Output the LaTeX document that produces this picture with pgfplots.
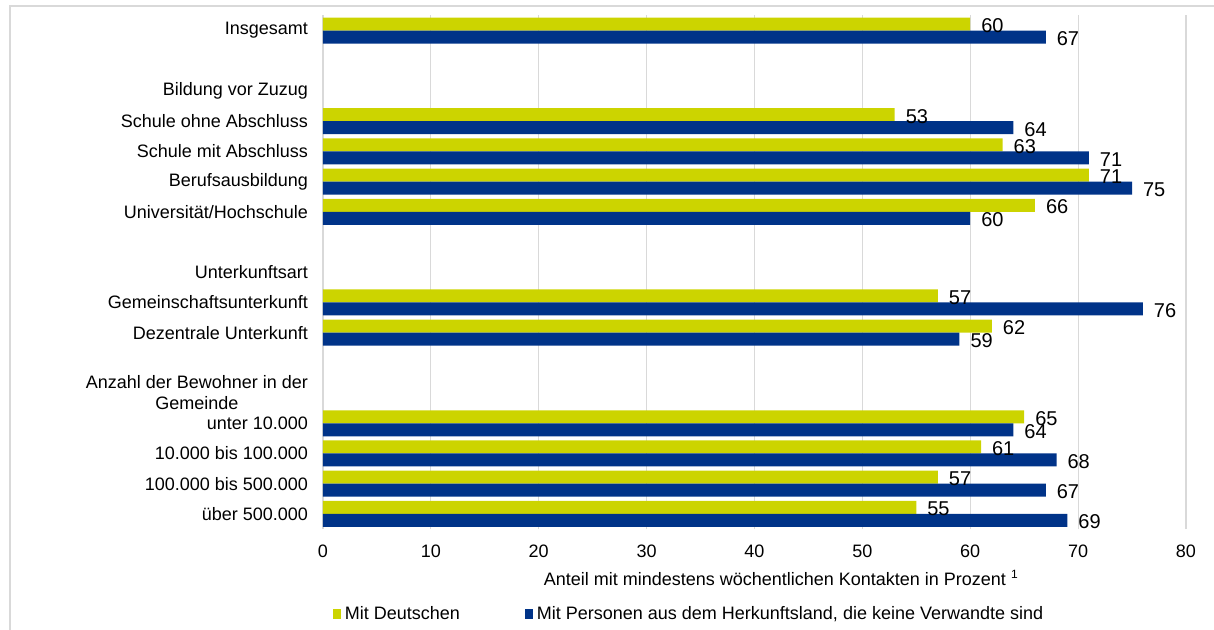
\documentclass[border=0pt]{standalone}
\usepackage{fontspec}
\setmainfont{Liberation Sans}
\usepackage{pgfplots}
\pgfplotsset{compat=1.18}
\definecolor{cDE}{RGB}{204,212,0}
\definecolor{cHK}{RGB}{0,51,136}
\definecolor{gridc}{RGB}{217,217,217}
\newcommand\f{\fontsize{9}{10.5}\selectfont}
\newcommand\fv{\fontsize{10}{11.5}\selectfont}
\begin{document}
\begin{tikzpicture}
\useasboundingbox (-161.5pt,-50pt) rectangle (445.5pt,264.5pt);
\draw[gridc, line width=0.9pt] (-156.5pt,-52pt) -- (-156.5pt,261.5pt) -- (447pt,261.5pt);
\begin{axis}[
  scale only axis, width=431.5pt, height=256.8pt,
  at={(0pt,0pt)}, anchor=south west,
  xmin=0, xmax=80, ymin=-0.5, ymax=16.5,
  xtick={0,10,...,80}, ytick={0,...,16},
  yticklabels={über 500.000, 100.000 bis 500.000, 10.000 bis 100.000, unter 10.000,
    {Anzahl der Bewohner in der\\Gemeinde}, {}, Dezentrale Unterkunft, Gemeinschaftsunterkunft,
    Unterkunftsart, {}, Universität/Hochschule, Berufsausbildung, Schule mit Abschluss,
    Schule ohne Abschluss, Bildung vor Zuzug, {}, Insgesamt},
  /pgf/number format/assume math mode=true,
  major tick length=0pt,
  axis line style={draw=none},
  xmajorgrids, grid style={gridc, line width=0.6pt},
  ticklabel style={font=\f},
  yticklabel style={align=center, xshift=-4pt},
  xticklabel style={yshift=-4.5pt},
  xlabel={Anteil mit mindestens wöchentlichen Kontakten in Prozent \textsuperscript{1}},
  xlabel style={font=\f, at={(axis description cs:0.531,-0.0954)}, anchor=center},
  nodes near coords, point meta=x,
  nodes near coords style={font=\fv, anchor=west, xshift=2pt, text=black},
  legend columns=2,
  legend style={draw=none, font=\f, at={(axis description cs:0.004,-0.1655)}, anchor=west,
    /tikz/every even column/.append style={column sep=30.5pt}},
  legend image code/.code={\fill[#1] (0pt,-2.5pt) rectangle (4pt,2.5pt);},
]
\addplot[xbar, bar width=6.5pt, bar shift=3.25pt, fill=cDE, draw=none,
  nodes near coords style={yshift=2.5pt}]
  coordinates {(60,16) (53,13) (63,12) (71,11) (66,10) (57,7) (62,6) (65,3) (61,2) (57,1) (55,0)};
\addlegendentry{Mit Deutschen}
\addplot[xbar, bar width=6.5pt, bar shift=-3.25pt, fill=cHK, draw=none,
  nodes near coords style={yshift=-4pt}]
  coordinates {(67,16) (64,13) (71,12) (75,11) (60,10) (76,7) (59,6) (64,3) (68,2) (67,1) (69,0)};
\addlegendentry{Mit Personen aus dem Herkunftsland, die keine Verwandte sind}
\end{axis}
\end{tikzpicture}
\end{document}
